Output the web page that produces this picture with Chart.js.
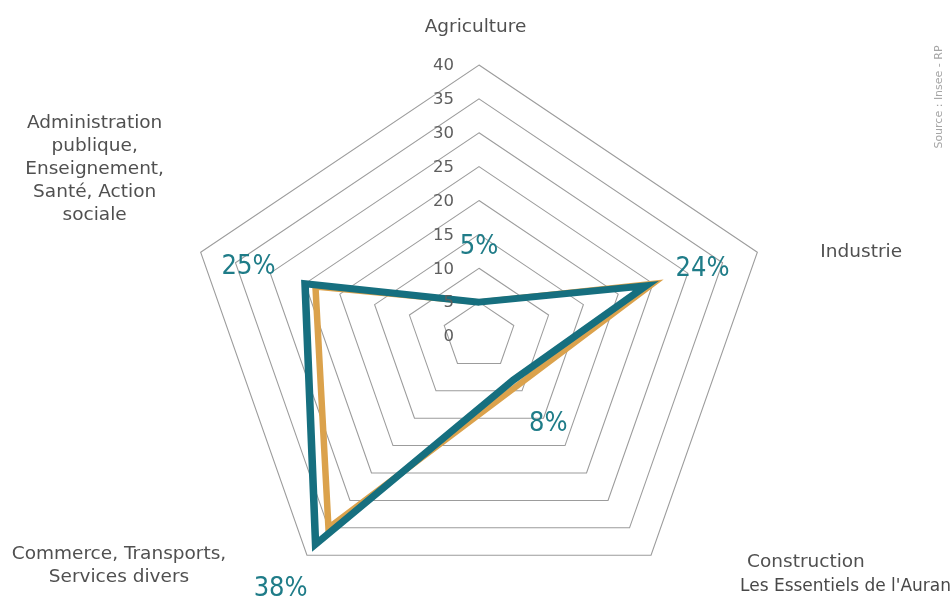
<!DOCTYPE html>
<html lang="fr">
<head>
<meta charset="utf-8">
<title>Répartition des emplois par secteur</title>
<script src="https://cdn.jsdelivr.net/npm/chart.js@4/dist/chart.umd.min.js"></script>
<style>
  html, body { margin: 0; padding: 0; background: #ffffff; overflow: hidden; }
  #wrap { position: relative; width: 951px; height: 620px; }
</style>
</head>
<body>
<div id="wrap"><canvas id="radar"></canvas></div>
<script>
// Secteurs d'activité (axes du radar)
const categories = [
  'Agriculture',
  'Industrie',
  'Construction',
  'Commerce, Transports, Services divers',
  'Administration publique, Enseignement, Santé, Action sociale'
];
// Libellés des axes, découpés en lignes
const categoryLines = [
  ['Agriculture'],
  ['Industrie'],
  ['Construction'],
  ['Commerce, Transports,', 'Services divers'],
  ['Administration', 'publique,', 'Enseignement,', 'Santé, Action', 'sociale']
];
// Part des emplois (%) — territoire (bleu) et territoire de comparaison (orange)
const zoneShares = [5, 24, 8, 38, 25];
const comparisonShares = [5, 25, 9, 35, 23.5];
// Graduations de l'échelle radiale
const tickValues = [0, 5, 10, 15, 20, 25, 30, 35, 40];

const sourceText = 'Source : Insee - RP';
const footerText = "Les Essentiels de l'Auran";

// Mise en forme
const STRETCH_X = 1.08;            // le radar est légèrement élargi horizontalement
const TEAL = '#166f7f';
const TEAL_TEXT = '#1f7c88';
const ORANGE = '#dba24c';
const LABEL_FONT = '18.5px "DejaVu Sans", sans-serif';
const TICK_FONT = '16.5px "DejaVu Sans", sans-serif';
const PCT_FONT = '27px "Liberation Sans Narrow", "DejaVu Sans Condensed", sans-serif';
const PCT_OFFSET = 55;             // écart (px) entre le sommet et son pourcentage
const LINE_HEIGHT = 23;
// Position de chaque libellé par rapport au sommet extérieur de son axe
const labelPlacement = [
  { dx: -3.5, dy: -33.5, align: 'center' },
  { dx: 63,   dy: 4.5,   align: 'left' },
  { dx: 96,   dy: 11.5,  align: 'left' },
  { dx: -188, dy: 4,     align: 'center' },
  { dx: -106, dy: -124,  align: 'center' }
];

function stretched(scale, p) {
  return { x: scale.xCenter + (p.x - scale.xCenter) * STRETCH_X, y: p.y };
}

// Élargit horizontalement la grille et les tracés autour du centre
const stretchPlugin = {
  id: 'stretchX',
  beforeDraw(chart) {
    const s = chart.scales.r, c = chart.ctx;
    c.save();
    c.translate(s.xCenter, 0);
    c.scale(STRETCH_X, 1);
    c.translate(-s.xCenter, 0);
  },
  afterDatasetsDraw(chart) {
    chart.ctx.restore();
  }
};

// Textes : graduations, libellés des axes, pourcentages, source
const textPlugin = {
  id: 'radarTexts',
  afterDraw(chart) {
    const s = chart.scales.r, c = chart.ctx;
    const outer = s.getDistanceFromCenterForValue(s.max);
    c.save();

    // graduations
    c.font = TICK_FONT;
    c.fillStyle = '#5e5e5e';
    c.textAlign = 'right';
    c.textBaseline = 'middle';
    tickValues.forEach(v => {
      c.fillText(String(v), s.xCenter - 25, s.yCenter - s.getDistanceFromCenterForValue(v) + 1);
    });

    // libellés des axes
    c.font = LABEL_FONT;
    c.fillStyle = '#505050';
    c.textBaseline = 'alphabetic';
    categoryLines.forEach((lines, i) => {
      const v = stretched(s, s.getPointPosition(i, outer));
      const pl = labelPlacement[i];
      c.textAlign = pl.align;
      lines.forEach((line, k) => {
        c.fillText(line, v.x + pl.dx, v.y + pl.dy + k * LINE_HEIGHT);
      });
    });

    // pourcentages du territoire
    c.font = PCT_FONT;
    c.fillStyle = TEAL_TEXT;
    c.textAlign = 'center';
    c.textBaseline = 'middle';
    zoneShares.forEach((v, i) => {
      const p = stretched(s, s.getPointPosition(i, s.getDistanceFromCenterForValue(v) + PCT_OFFSET));
      c.fillText(v + '%', p.x, p.y);
    });

    // source verticale
    c.save();
    c.translate(939, 97);
    c.rotate(-Math.PI / 2);
    c.font = '11px "DejaVu Sans", sans-serif';
    c.fillStyle = '#a5a5a5';
    c.textAlign = 'center';
    c.textBaseline = 'middle';
    c.fillText(sourceText, 0, 0);
    c.restore();

    // pied de page
    c.font = '17px "DejaVu Sans", sans-serif';
    c.fillStyle = '#484848';
    c.textAlign = 'left';
    c.textBaseline = 'alphabetic';
    c.fillText(footerText, 740, 591);

    c.restore();
  }
};

new Chart(document.getElementById('radar'), {
  type: 'radar',
  data: {
    labels: categories,
    datasets: [
      {
        label: 'Territoire',
        data: zoneShares,
        borderColor: TEAL,
        borderWidth: 7,
        pointRadius: 0,
        fill: false
      },
      {
        label: 'Comparaison',
        data: comparisonShares,
        borderColor: ORANGE,
        borderWidth: 6,
        pointRadius: 0,
        fill: false
      }
    ]
  },
  options: {
    responsive: true,
    maintainAspectRatio: false,
    animation: false,
    layout: { padding: { left: 208, right: 201, top: 65, bottom: 13 } },
    plugins: { legend: { display: false }, tooltip: { enabled: false } },
    elements: { line: { tension: 0, borderJoinStyle: 'miter' } },
    scales: {
      r: {
        min: 0,
        max: 40,
        ticks: { stepSize: 5, display: false },
        pointLabels: { display: false },
        angleLines: { display: false },
        grid: { color: '#9c9c9c', lineWidth: 1 }
      }
    }
  },
  plugins: [stretchPlugin, textPlugin]
});
</script>
</body>
</html>
